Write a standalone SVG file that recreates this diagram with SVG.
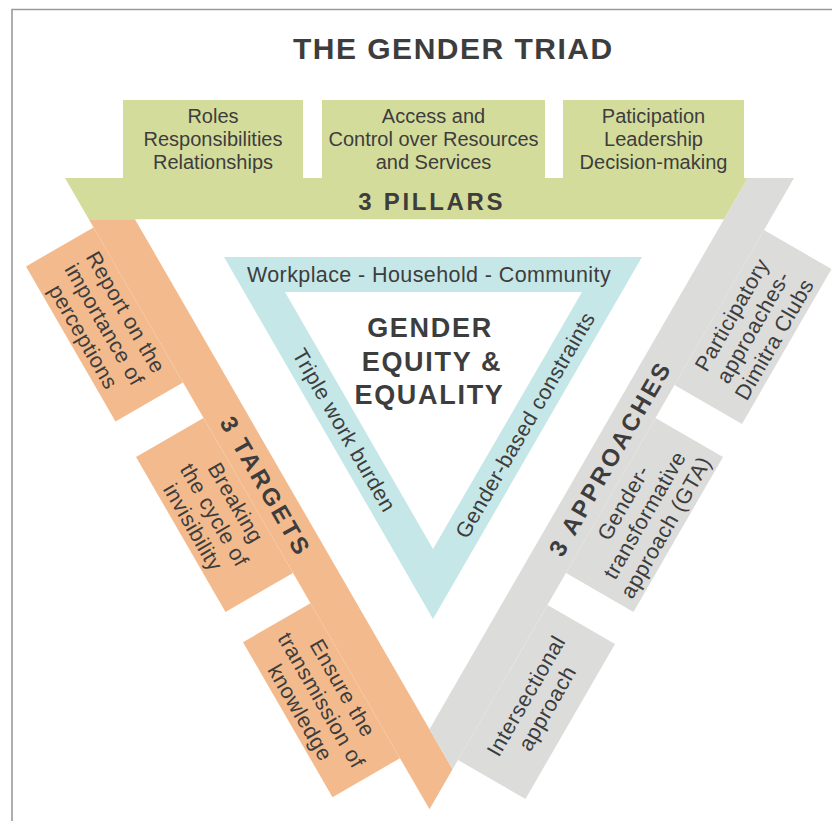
<svg xmlns="http://www.w3.org/2000/svg" width="832" height="821" viewBox="0 0 832 821">
<style>
  .t { font-family: "Liberation Sans", Arial, "DejaVu Sans", sans-serif; fill: #3d3d3d; }
  .box { font-size: 20px; text-anchor: middle; }
  .tab { font-size: 21.5px; text-anchor: middle; letter-spacing: 0.5px; }
  .band { font-size: 21.5px; text-anchor: middle; letter-spacing: 0.4px; }
  .head { font-size: 24px; font-weight: bold; text-anchor: middle; letter-spacing: 2.7px; }
  .green { fill: #d4dc9c; }
  .orange { fill: #f3bb8d; }
  .gray { fill: #dcdcdb; }
  .blue { fill: #c5e7e8; }
</style>
<rect x="0" y="0" width="832" height="821" fill="#ffffff"/>
<path d="M12,821 V9.5 H832" fill="none" stroke="#9a9a9a" stroke-width="1.6"/>

<text id="title" class="t" x="453.3" y="59" font-size="30" font-weight="bold" text-anchor="middle" letter-spacing="1.5">THE GENDER TRIAD</text>

<g id="pillars">
  <polygon class="green" points="65,178 747.8,178 724,219.3 88.8,219.3"/>
  <text class="t head" x="431.8" y="210">3 PILLARS</text>
</g>
<g id="pillar-roles">
  <rect class="green" x="123" y="100" width="180" height="80"/>
  <text class="t box" x="213"><tspan x="213" y="123">Roles</tspan><tspan x="213" y="146">Responsibilities</tspan><tspan x="213" y="169">Relationships</tspan></text>
</g>
<g id="pillar-access">
  <rect class="green" x="322" y="100" width="223" height="80"/>
  <text class="t box" x="433.5"><tspan x="433.5" y="123">Access and</tspan><tspan x="433.5" y="146">Control over Resources</tspan><tspan x="433.5" y="169">and Services</tspan></text>
</g>
<g id="pillar-participation">
  <rect class="green" x="563" y="100" width="181" height="80"/>
  <text class="t box" x="653.5"><tspan x="653.5" y="123">Paticipation</tspan><tspan x="653.5" y="146">Leadership</tspan><tspan x="653.5" y="169">Decision-making</tspan></text>
</g>

<g id="targets">
  <polygon class="orange" points="88.8,219.3 135,219.3 452.6,769.3 429.5,809.3"/>
  <text class="t head" transform="translate(265,485) rotate(60)" x="1.5" y="8.5">3 TARGETS</text>
</g>
<g id="target-perceptions">
  <polygon class="orange" points="93.5,227.4 26,266.4 115.5,421.4 183,382.4"/>
  <text class="t tab" transform="translate(104.6,324.4) rotate(60)"><tspan x="0" y="-17">Report on the</tspan><tspan x="0" y="7.5">importance of</tspan><tspan x="0" y="32">perceptions</tspan></text>
</g>
<g id="target-invisibility">
  <polygon class="orange" points="203.5,417.9 136,456.9 225.5,611.9 293,572.9"/>
  <text class="t tab" transform="translate(214.5,514.9) rotate(60)"><tspan x="0" y="-17">Breaking</tspan><tspan x="0" y="7.5">the cycle of</tspan><tspan x="0" y="32">invisibility</tspan></text>
</g>
<g id="target-knowledge">
  <polygon class="orange" points="310.5,603.2 243,642.2 332.5,797.2 400,758.2"/>
  <text class="t tab" transform="translate(321.5,700.2) rotate(60)"><tspan x="0" y="-17">Ensure the</tspan><tspan x="0" y="7.5">transmission of</tspan><tspan x="0" y="32">knowledge</tspan></text>
</g>

<g id="approaches">
  <polygon class="gray" points="747.8,178 794,178 452.6,769.3 429.5,729.3"/>
  <text class="t head" transform="translate(609,460) rotate(-60)" x="2" y="8.5" letter-spacing="4">3 APPROACHES</text>
</g>
<g id="approach-participatory">
  <polygon class="gray" points="764,230 831.5,269 742,424 674.5,385"/>
  <text class="t tab" transform="translate(753,327) rotate(-60)"><tspan x="0" y="-17">Participatory</tspan><tspan x="0" y="7.5">approaches-</tspan><tspan x="0" y="32">Dimitra Clubs</tspan></text>
</g>
<g id="approach-gta">
  <polygon class="gray" points="655.5,417.9 723,456.9 633.5,611.9 566,572.9"/>
  <text class="t tab" transform="translate(644.5,514.9) rotate(-60)"><tspan x="0" y="-17">Gender-</tspan><tspan x="0" y="7.5">transformative</tspan><tspan x="0" y="32">approach (GTA)</tspan></text>
</g>
<g id="approach-intersectional">
  <polygon class="gray" points="547.5,605 615,644 525.5,799 458,760"/>
  <text class="t tab" transform="translate(536.5,702) rotate(-60)"><tspan x="0" y="-4.75">Intersectional</tspan><tspan x="0" y="19.75">approach</tspan></text>
</g>

<g id="gender-equity">
  <path class="blue" fill-rule="evenodd" d="M224,257 H642 L433,619 Z M285,292 L433,549 L582,292 Z"/>
  <text class="t band" x="429" y="282">Workplace - Household - Community</text>
  <text class="t band" transform="translate(344.3,430) rotate(60)" x="0" y="7.5">Triple work burden</text>
  <text class="t band" transform="translate(525,425) rotate(-60)" x="0" y="7.5">Gender-based constraints</text>
  <text class="t" font-size="27" font-weight="bold" text-anchor="middle" letter-spacing="1.7"><tspan x="430" y="337">GENDER</tspan><tspan x="432" y="371">EQUITY &amp;</tspan><tspan x="429.5" y="404">EQUALITY</tspan></text>
</g>

<g id="connectors"></g>
</svg>
